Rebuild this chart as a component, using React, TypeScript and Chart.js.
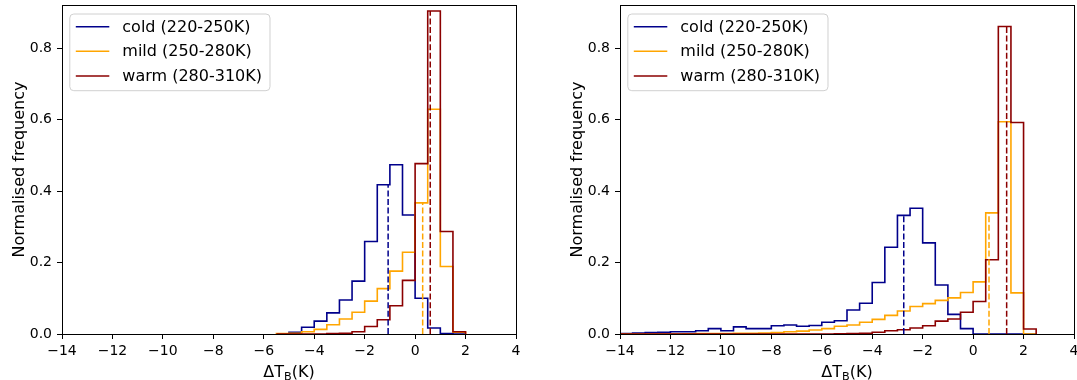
import React, { useEffect, useRef } from "react";
import { Chart, registerables } from "chart.js";

Chart.register(...registerables);

// ---------- data ----------
const seriesNames = ["cold (220-250K)", "mild (250-280K)", "warm (280-310K)"];
const seriesColors = ["#00008b", "#ffa500", "#8b0000"];

const xTicks = [-14, -12, -10, -8, -6, -4, -2, 0, 2, 4];
const yTicks = [0, 0.2, 0.4, 0.6, 0.8];

// left panel: bin edges and normalised frequencies
const leftEdges = [-5.5, -5, -4.5, -4, -3.5, -3, -2.5, -2, -1.5, -1, -0.5, 0, 0.5, 1, 1.5, 2];
const leftCold = [0, 0.005, 0.019, 0.036, 0.059, 0.095, 0.148, 0.259, 0.418, 0.474, 0.333, 0.1, 0.017, 0.001, 0];
const leftMild = [0.001, 0.002, 0.0065, 0.013, 0.026, 0.042, 0.061, 0.092, 0.127, 0.176, 0.229, 0.367, 0.629, 0.189, 0.005];
const leftWarm = [0, 0, 0, 0, 0.001, 0.002, 0.0065, 0.021, 0.04, 0.079, 0.15, 0.477, 0.904, 0.287, 0.0065];
const leftMedians = [-1.07, 0.3, 0.6];

// right panel
const rightEdges = [
  -14, -13.5, -13, -12.5, -12, -11.5, -11, -10.5, -10, -9.5, -9, -8.5, -8, -7.5, -7, -6.5, -6,
  -5.5, -5, -4.5, -4, -3.5, -3, -2.5, -2, -1.5, -1, -0.5, 0, 0.5, 1, 1.5, 2, 2.5,
];
const rightCold = [
  0.001, 0.003, 0.004, 0.005, 0.0065, 0.0065, 0.009, 0.015, 0.009, 0.02, 0.015, 0.015, 0.023,
  0.025, 0.0215, 0.024, 0.033, 0.037, 0.067, 0.086, 0.144, 0.243, 0.332, 0.352, 0.255, 0.137,
  0.055, 0.015, 0, 0, 0, 0, 0,
];
const rightMild = [
  0, 0, 0, 0, 0, 0.0005, 0.001, 0.001, 0.0015, 0.002, 0.002, 0.003, 0.004, 0.0065, 0.008, 0.011,
  0.015, 0.0215, 0.025, 0.033, 0.041, 0.052, 0.0645, 0.077, 0.085, 0.094, 0.101, 0.116, 0.146,
  0.339, 0.594, 0.115, 0,
];
const rightWarm = [
  0, 0, 0, 0, 0, 0, 0, 0, 0, 0, 0, 0, 0, 0, 0, 0, 0, 0.0005, 0.001, 0.002, 0.005, 0.009, 0.012,
  0.017, 0.023, 0.036, 0.042, 0.061, 0.091, 0.208, 0.861, 0.592, 0.014,
];
const rightMedians = [-2.75, 0.63, 1.33];

const yMax = 0.921;
const FONT = "'DejaVu Sans', 'Noto Sans', sans-serif";

// ---------- helpers ----------
function stepPoints(edges: number[], vals: number[]) {
  const pts: { x: number; y: number }[] = [{ x: edges[0], y: 0 }];
  for (let i = 0; i < vals.length; i++) {
    pts.push({ x: edges[i], y: vals[i] });
    pts.push({ x: edges[i + 1], y: vals[i] });
  }
  pts.push({ x: edges[edges.length - 1], y: 0 });
  return pts;
}

function heightAt(edges: number[], vals: number[], m: number) {
  for (let i = 0; i < vals.length; i++) {
    if (m >= edges[i] && m < edges[i + 1]) return vals[i];
  }
  return 0;
}

function fmtX(v: number) {
  return v < 0 ? "\u2212" + Math.abs(v) : String(v);
}

function framePlugin() {
  return {
    id: "frame",
    afterDraw(chart: any) {
      const { ctx, chartArea } = chart;
      const { left, right, top, bottom } = chartArea;
      ctx.save();
      // spines
      ctx.strokeStyle = "#000";
      ctx.lineWidth = 1;
      ctx.strokeRect(Math.round(left) + 0.5, Math.round(top) + 0.5, Math.round(right - left), Math.round(bottom - top));

      // y title
      ctx.fillStyle = "#000";
      ctx.font = `16px ${FONT}`;
      ctx.textAlign = "center";
      ctx.textBaseline = "middle";
      ctx.save();
      ctx.translate(left - 42.5, (top + bottom) / 2);
      ctx.rotate(-Math.PI / 2);
      ctx.fillText("Normalised frequency", 0, 0);
      ctx.restore();

      // x title: ΔT_B(K)
      const base = 377;
      const cx = (left + right) / 2;
      ctx.textAlign = "left";
      ctx.textBaseline = "alphabetic";
      ctx.font = `16px ${FONT}`;
      const w1 = ctx.measureText("\u0394T").width;
      const w3 = ctx.measureText("(K)").width;
      ctx.font = `11.2px ${FONT}`;
      const w2 = ctx.measureText("B").width;
      let x = cx - (w1 + w2 + w3) / 2;
      ctx.font = `16px ${FONT}`;
      ctx.fillText("\u0394T", x, base);
      x += w1;
      ctx.font = `11.2px ${FONT}`;
      ctx.fillText("B", x, base + 3);
      x += w2;
      ctx.font = `16px ${FONT}`;
      ctx.fillText("(K)", x, base);

      // legend
      ctx.font = `16px ${FONT}`;
      const bx = left + 7.8;
      const by = top + 9;
      const textOff = 52.5;
      let maxW = 0;
      seriesNames.forEach((n) => (maxW = Math.max(maxW, ctx.measureText(n).width)));
      const bw = textOff + maxW + 8;
      const bh = 76.7;
      const r = 4;
      ctx.beginPath();
      ctx.moveTo(bx + r, by);
      ctx.lineTo(bx + bw - r, by);
      ctx.quadraticCurveTo(bx + bw, by, bx + bw, by + r);
      ctx.lineTo(bx + bw, by + bh - r);
      ctx.quadraticCurveTo(bx + bw, by + bh, bx + bw - r, by + bh);
      ctx.lineTo(bx + r, by + bh);
      ctx.quadraticCurveTo(bx, by + bh, bx, by + bh - r);
      ctx.lineTo(bx, by + r);
      ctx.quadraticCurveTo(bx, by, bx + r, by);
      ctx.closePath();
      ctx.fillStyle = "rgba(255,255,255,0.8)";
      ctx.fill();
      ctx.strokeStyle = "#d0d0d0";
      ctx.lineWidth = 1;
      ctx.stroke();
      seriesNames.forEach((n, i) => {
        const ry = by + 12.7 + i * 24.6;
        ctx.strokeStyle = seriesColors[i];
        ctx.lineWidth = 1.5;
        ctx.beginPath();
        ctx.moveTo(bx + 6, ry);
        ctx.lineTo(bx + 39.5, ry);
        ctx.stroke();
        ctx.fillStyle = "#000";
        ctx.textAlign = "left";
        ctx.textBaseline = "middle";
        ctx.fillText(n, bx + textOff, ry + 1);
      });
      ctx.restore();
    },
  };
}

function makeConfig(
  edges: number[],
  hists: number[][],
  medians: number[],
  yAxisWidth: number,
  padRight: number
) {
  const datasets: any[] = [];
  // earlier datasets are drawn on top in Chart.js
  for (let k = 2; k >= 0; k--) {
    const m = medians[k];
    const h = heightAt(edges, hists[k], m);
    datasets.push({
      label: "median " + seriesNames[k],
      data: [
        { x: m, y: 0 },
        { x: m, y: h },
      ],
      borderColor: seriesColors[k],
      borderWidth: 1.5,
      borderDash: [6, 2.6],
      pointRadius: 0,
      fill: false,
      tension: 0,
    });
  }
  for (let k = 2; k >= 0; k--) {
    datasets.push({
      label: seriesNames[k],
      data: stepPoints(edges, hists[k]),
      borderColor: seriesColors[k],
      borderWidth: 1.6,
      pointRadius: 0,
      fill: false,
      tension: 0,
    });
  }
  const tickGrid = {
    display: true,
    drawOnChartArea: false,
    drawTicks: true,
    tickLength: 5,
    color: "#000",
    lineWidth: 1,
  };
  return {
    type: "line",
    data: { datasets },
    options: {
      animation: false,
      responsive: false,
      maintainAspectRatio: false,
      layout: { padding: { top: 5, right: padRight, left: 0, bottom: 0 } },
      plugins: { legend: { display: false }, tooltip: { enabled: false } },
      scales: {
        x: {
          type: "linear",
          min: -14,
          max: 4,
          afterBuildTicks: (s: any) => {
            s.ticks = xTicks.map((v) => ({ value: v }));
          },
          afterFit: (s: any) => {
            s.height = 46;
            s.paddingLeft = 0;
            s.paddingRight = 0;
          },
          grid: tickGrid,
          border: { display: false },
          ticks: {
            autoSkip: false,
            maxRotation: 0,
            padding: 4,
            color: "#000",
            font: { size: 14, family: FONT },
            callback: (v: any) => fmtX(Number(v)),
          },
        },
        y: {
          type: "linear",
          min: 0,
          max: yMax,
          afterBuildTicks: (s: any) => {
            s.ticks = yTicks.map((v) => ({ value: v }));
          },
          afterFit: (s: any) => {
            s.width = yAxisWidth;
            s.paddingTop = 0;
            s.paddingBottom = 0;
          },
          grid: tickGrid,
          border: { display: false },
          ticks: {
            padding: 5,
            color: "#000",
            font: { size: 14, family: FONT },
            callback: (v: any) => Number(v).toFixed(1),
          },
        },
      },
    },
    plugins: [framePlugin()],
  };
}

function Panel(props: {
  left: number;
  width: number;
  edges: number[];
  hists: number[][];
  medians: number[];
  yAxisWidth: number;
  padRight: number;
}) {
  const ref = useRef<HTMLCanvasElement | null>(null);
  useEffect(() => {
    if (!ref.current) return;
    const chart = new Chart(
      ref.current,
      makeConfig(props.edges, props.hists, props.medians, props.yAxisWidth, props.padRight) as any
    );
    return () => chart.destroy();
  }, []);
  return (
    <canvas
      ref={ref}
      width={props.width}
      height={380}
      style={{ position: "absolute", left: props.left, top: 0, width: props.width, height: 380 }}
    />
  );
}

export default function App() {
  Chart.defaults.font.family = FONT;
  return (
    <div
      style={{
        position: "fixed",
        left: 0,
        top: 0,
        width: 1077,
        height: 380,
        overflow: "hidden",
        background: "#fff",
      }}
    >
      <Panel
        left={0}
        width={538}
        edges={leftEdges}
        hists={[leftCold, leftMild, leftWarm]}
        medians={leftMedians}
        yAxisWidth={62}
        padRight={22}
      />
      <Panel
        left={538}
        width={549}
        edges={rightEdges}
        hists={[rightCold, rightMild, rightWarm]}
        medians={rightMedians}
        yAxisWidth={82}
        padRight={13}
      />
    </div>
  );
}
